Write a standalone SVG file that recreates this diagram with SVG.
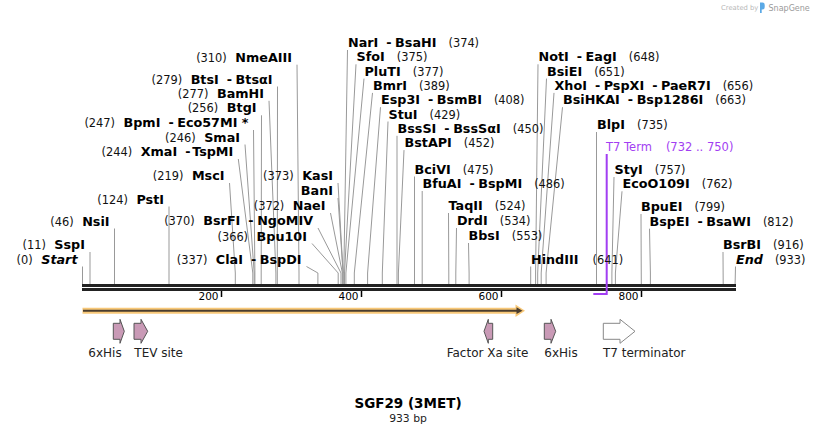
<svg xmlns="http://www.w3.org/2000/svg" width="818" height="434" viewBox="0 0 818 434">
<style>
text{font-family:"DejaVu Sans","Liberation Sans",sans-serif;fill:#000}
.b{font-weight:bold;font-size:12.75px}
.i{font-weight:bold;font-style:italic;font-size:12.75px}
.p{font-weight:normal;font-size:11.4px;fill:#111}
.t{font-size:10.5px}
.f{font-size:12px;fill:#222}
.ln{stroke:#999;stroke-width:1;fill:none}
.feat{fill:#c99ab6;stroke:#555;stroke-width:1}
.term{fill:#fff;stroke:#888;stroke-width:1}
.pur{fill:#a23ef2;font-size:11.5px}
</style>
<rect width="818" height="434" fill="#fff"/>
<g id="logo">
<text x="721" y="9.5" style="font-size:6.8px;fill:#b8b8b8">Created by</text>
<path d="M760,2.5 h2.5 a2.2,2.2 0 0 1 2.2,2.2 v2.6 a2.2,2.2 0 0 1 -2.2,2.2 h-0.8 v3.5 h-1.7 z" fill="#5aa9e6"/>
<text x="768.5" y="10.5" style="font-size:8px;fill:#9a9a9a">SnapGene</text>
</g>
<g id="connectors">
<polyline class="ln" points="347.5,50 343.8,273 343.8,284"/>
<polyline class="ln" points="356,64.3 344.5,273 344.5,284"/>
<polyline class="ln" points="364,78.6 345.9,273 345.9,284"/>
<polyline class="ln" points="372.5,92.9 354.3,273 354.3,284"/>
<polyline class="ln" points="380.5,107.2 367.6,273 367.6,284"/>
<polyline class="ln" points="388,121.5 382.3,273 382.3,284"/>
<polyline class="ln" points="397,135.8 397,284"/>
<polyline class="ln" points="404,150.1 398.4,273 398.4,284"/>
<polyline class="ln" points="414.5,176.5 414.5,284"/>
<polyline class="ln" points="422.2,191 422.2,284"/>
<polyline class="ln" points="448.5,213 448.8,273 448.8,284"/>
<polyline class="ln" points="456.5,228 455.8,273 455.8,284"/>
<polyline class="ln" points="468.5,243 469.1,273 469.1,284"/>
<polyline class="ln" points="530.7,266.5 530.7,284"/>
<polyline class="ln" points="538,64.3 535.6,273 535.6,284"/>
<polyline class="ln" points="546.5,78.6 537.7,273 537.7,284"/>
<polyline class="ln" points="554,92.9 541.2,273 541.2,284"/>
<polyline class="ln" points="562.5,107.2 546.1,273 546.1,284"/>
<polyline class="ln" points="596.5,132 596.5,284"/>
<polyline class="ln" points="614,177 611.9,273 611.9,284"/>
<polyline class="ln" points="622,191.3 615.4,273 615.4,284"/>
<polyline class="ln" points="641,214 641.3,284"/>
<polyline class="ln" points="649.5,228.7 650.4,273 650.4,284"/>
<polyline class="ln" points="723,252 723.2,284"/>
<polyline class="ln" points="735.5,266.5 735.1,284"/>
<polyline class="ln" points="297,64.7 299,273 299,284"/>
<polyline class="ln" points="277.5,86.5 277.3,273 277.3,284"/>
<polyline class="ln" points="269,100.8 275.9,273 275.9,284"/>
<polyline class="ln" points="261.5,115.3 261.2,273 261.2,284"/>
<polyline class="ln" points="253.5,130 254.9,273 254.9,284"/>
<polyline class="ln" points="245,144.5 254.2,273 254.2,284"/>
<polyline class="ln" points="238.3,159 252.8,273 252.8,284"/>
<polyline class="ln" points="229.5,183 235.3,273 235.3,284"/>
<polyline class="ln" points="169,206.5 169,284"/>
<polyline class="ln" points="114.5,228.5 114.5,284"/>
<polyline class="ln" points="90,252 90,284"/>
<polyline class="ln" points="82.5,266.5 82.5,284"/>
<polyline class="ln" points="338,183 343.1,273 343.1,284"/>
<polyline class="ln" points="338,198 343.1,273"/>
<polyline class="ln" points="330.5,213 342.4,273 342.4,284"/>
<polyline class="ln" points="318,228 341,273 341,284"/>
<polyline class="ln" points="312,243.5 338.2,273 338.2,284"/>
<polyline class="ln" points="306.5,266.5 317.9,273 317.9,284"/>
</g>
<g id="sequence">
<rect x="82" y="284" width="654" height="3" fill="#222"/>
<rect x="82" y="288" width="654" height="3" fill="#222"/>
<g stroke="#000" stroke-width="1.5">
<line x1="221.5" y1="291" x2="221.5" y2="297"/>
<line x1="361.5" y1="291" x2="361.5" y2="297"/>
<line x1="501.5" y1="291" x2="501.5" y2="297"/>
<line x1="641.5" y1="291" x2="641.5" y2="297"/>
</g>
<text class="t" x="218.5" y="300" text-anchor="end">200</text>
<text class="t" x="358.5" y="300" text-anchor="end">400</text>
<text class="t" x="498.5" y="300" text-anchor="end">600</text>
<text class="t" x="638.5" y="300" text-anchor="end">800</text>
</g>
<g id="t7term-marker">
<path d="M606.7,154 V294 H593.3" fill="none" stroke="#a23ef2" stroke-width="2"/>
<text class="pur" x="606" y="151">T7 Term<tspan dx="14">(732 .. 750)</tspan></text>
</g>
<g id="orf">
<path d="M82.5,310.7 H518" stroke="#f8c878" stroke-width="6" fill="none"/>
<polygon points="515.5,304.5 525,310.7 515.5,316.9" fill="#f8c878"/>
<path d="M83,310.7 H518" stroke="#4a3d2e" stroke-width="2" fill="none"/>
<polygon points="516.5,307.3 522.5,310.7 516.5,314.1" fill="#4a3d2e"/>
</g>
<g id="feat-6xHis-1"><polygon class="feat" points="113.3,323.3 120,323.3 120,319.3 124.3,331.3 120,343.3 120,339.3 113.3,339.3"/><text class="f" x="88.3" y="357">6xHis</text></g>
<g id="feat-TEV"><polygon class="feat" points="134,323.3 141,323.3 141,319.3 147.7,331.3 141,343.3 141,339.3 134,339.3"/><text class="f" x="134.3" y="357">TEV site</text></g>
<g id="feat-FactorXa"><polygon class="feat" points="492.7,323.3 488.3,323.3 488.3,319.3 484,331.3 488.3,343.3 488.3,339.3 492.7,339.3"/><text class="f" x="446.7" y="357">Factor Xa site</text></g>
<g id="feat-6xHis-2"><polygon class="feat" points="544.3,323.3 551,323.3 551,319.3 555.7,331.3 551,343.3 551,339.3 544.3,339.3"/><text class="f" x="544.3" y="357">6xHis</text></g>
<g id="feat-T7term"><polygon class="term" points="603.3,323.3 620,323.3 620,319.3 635,331.3 620,343.3 620,339.3 603.3,339.3"/><text class="f" x="603" y="357">T7 terminator</text></g>
<g id="enz-NarI"><text x="348" y="47"><tspan class="b">NarI</tspan><tspan class="b" dx="8">-</tspan><tspan class="b" dx="3.5">BsaHI</tspan><tspan class="p" dx="12">(374)</tspan></text></g>
<g id="enz-SfoI"><text x="356.5" y="61.3"><tspan class="b">SfoI</tspan><tspan class="p" dx="12">(375)</tspan></text></g>
<g id="enz-PluTI"><text x="364.5" y="75.6"><tspan class="b">PluTI</tspan><tspan class="p" dx="12">(377)</tspan></text></g>
<g id="enz-BmrI"><text x="373" y="89.9"><tspan class="b">BmrI</tspan><tspan class="p" dx="12">(389)</tspan></text></g>
<g id="enz-Esp3I"><text x="381" y="104.2"><tspan class="b">Esp3I</tspan><tspan class="b" dx="8">-</tspan><tspan class="b" dx="3.5">BsmBI</tspan><tspan class="p" dx="12">(408)</tspan></text></g>
<g id="enz-StuI"><text x="388.5" y="118.5"><tspan class="b">StuI</tspan><tspan class="p" dx="12">(429)</tspan></text></g>
<g id="enz-BssSI"><text x="397.5" y="132.8"><tspan class="b">BssSI</tspan><tspan class="b" dx="8">-</tspan><tspan class="b" dx="3.5">BssSαI</tspan><tspan class="p" dx="12">(450)</tspan></text></g>
<g id="enz-BstAPI"><text x="404.5" y="147.1"><tspan class="b">BstAPI</tspan><tspan class="p" dx="12">(452)</tspan></text></g>
<g id="enz-BciVI"><text x="414.5" y="173.5"><tspan class="b">BciVI</tspan><tspan class="p" dx="12">(475)</tspan></text></g>
<g id="enz-BfuAI"><text x="422.5" y="188"><tspan class="b">BfuAI</tspan><tspan class="b" dx="8">-</tspan><tspan class="b" dx="3.5">BspMI</tspan><tspan class="p" dx="12">(486)</tspan></text></g>
<g id="enz-TaqII"><text x="448.5" y="210"><tspan class="b">TaqII</tspan><tspan class="p" dx="12">(524)</tspan></text></g>
<g id="enz-DrdI"><text x="457" y="225"><tspan class="b">DrdI</tspan><tspan class="p" dx="12">(534)</tspan></text></g>
<g id="enz-BbsI"><text x="468.5" y="240"><tspan class="b">BbsI</tspan><tspan class="p" dx="12">(553)</tspan></text></g>
<g id="enz-HindIII"><text x="531" y="263.5"><tspan class="b">HindIII</tspan><tspan class="p" dx="14">(641)</tspan></text></g>
<g id="enz-NotI"><text x="538.5" y="61.3"><tspan class="b">NotI</tspan><tspan class="b" dx="8">-</tspan><tspan class="b" dx="3.5">EagI</tspan><tspan class="p" dx="12">(648)</tspan></text></g>
<g id="enz-BsiEI"><text x="547" y="75.6"><tspan class="b">BsiEI</tspan><tspan class="p" dx="12">(651)</tspan></text></g>
<g id="enz-XhoI"><text x="554.5" y="89.9"><tspan class="b">XhoI</tspan><tspan class="b" dx="8">-</tspan><tspan class="b" dx="3.5">PspXI</tspan><tspan class="b" dx="8">-</tspan><tspan class="b" dx="3.5">PaeR7I</tspan><tspan class="p" dx="12">(656)</tspan></text></g>
<g id="enz-BsiHKAI"><text x="563" y="104.2"><tspan class="b">BsiHKAI</tspan><tspan class="b" dx="8">-</tspan><tspan class="b" dx="3.5">Bsp1286I</tspan><tspan class="p" dx="12">(663)</tspan></text></g>
<g id="enz-BlpI"><text x="597" y="129"><tspan class="b">BlpI</tspan><tspan class="p" dx="12">(735)</tspan></text></g>
<g id="enz-StyI"><text x="614.5" y="174"><tspan class="b">StyI</tspan><tspan class="p" dx="12">(757)</tspan></text></g>
<g id="enz-EcoO109I"><text x="622.5" y="188.3"><tspan class="b">EcoO109I</tspan><tspan class="p" dx="12">(762)</tspan></text></g>
<g id="enz-BpuEI"><text x="641" y="211"><tspan class="b">BpuEI</tspan><tspan class="p" dx="12">(799)</tspan></text></g>
<g id="enz-BspEI"><text x="649.5" y="225.7"><tspan class="b">BspEI</tspan><tspan class="b" dx="8">-</tspan><tspan class="b" dx="3.5">BsaWI</tspan><tspan class="p" dx="12">(812)</tspan></text></g>
<g id="enz-BsrBI"><text x="723" y="249"><tspan class="b">BsrBI</tspan><tspan class="p" dx="12">(916)</tspan></text></g>
<g id="enz-End"><text x="736" y="263.5"><tspan class="i">End</tspan><tspan class="p" dx="12">(933)</tspan></text></g>
<g id="enz-NmeAIII"><text x="292" y="61.7" text-anchor="end"><tspan class="p">(310)</tspan><tspan class="b" dx="8.5">NmeAIII</tspan></text></g>
<g id="enz-BtsI"><text x="272.5" y="83.5" text-anchor="end"><tspan class="p">(279)</tspan><tspan class="b" dx="8.5">BtsI</tspan><tspan class="b" dx="8">-</tspan><tspan class="b" dx="3.5">BtsαI</tspan></text></g>
<g id="enz-BamHI"><text x="264" y="97.8" text-anchor="end"><tspan class="p">(277)</tspan><tspan class="b" dx="8.5">BamHI</tspan></text></g>
<g id="enz-BtgI"><text x="256.5" y="112.3" text-anchor="end"><tspan class="p">(256)</tspan><tspan class="b" dx="8.5">BtgI</tspan></text></g>
<g id="enz-BpmI"><text x="248.5" y="127" text-anchor="end"><tspan class="p">(247)</tspan><tspan class="b" dx="8.5">BpmI</tspan><tspan class="b" dx="8">-</tspan><tspan class="b" dx="3.5">Eco57MI *</tspan></text></g>
<g id="enz-SmaI"><text x="240" y="141.5" text-anchor="end"><tspan class="p">(246)</tspan><tspan class="b" dx="8.5">SmaI</tspan></text></g>
<g id="enz-XmaI"><text x="233.3" y="156" text-anchor="end"><tspan class="p">(244)</tspan><tspan class="b" dx="8.5">XmaI</tspan><tspan class="b" dx="8">-</tspan><tspan class="b" dx="3.5">TspMI</tspan></text></g>
<g id="enz-MscI"><text x="224.5" y="180" text-anchor="end"><tspan class="p">(219)</tspan><tspan class="b" dx="8.5">MscI</tspan></text></g>
<g id="enz-PstI"><text x="164" y="203.5" text-anchor="end"><tspan class="p">(124)</tspan><tspan class="b" dx="8.5">PstI</tspan></text></g>
<g id="enz-NsiI"><text x="109.5" y="225.5" text-anchor="end"><tspan class="p">(46)</tspan><tspan class="b" dx="8.5">NsiI</tspan></text></g>
<g id="enz-SspI"><text x="85" y="249" text-anchor="end"><tspan class="p">(11)</tspan><tspan class="b" dx="8.5">SspI</tspan></text></g>
<g id="enz-Start"><text x="77.5" y="263.5" text-anchor="end"><tspan class="p">(0)</tspan><tspan class="i" dx="8.5">Start</tspan></text></g>
<g id="enz-KasI"><text x="333" y="180" text-anchor="end"><tspan class="p">(373)</tspan><tspan class="b" dx="8.5">KasI</tspan></text></g>
<g id="enz-BanI"><text x="333" y="195" text-anchor="end"><tspan class="b">BanI</tspan></text></g>
<g id="enz-NaeI"><text x="325.5" y="210" text-anchor="end"><tspan class="p">(372)</tspan><tspan class="b" dx="8.5">NaeI</tspan></text></g>
<g id="enz-BsrFI"><text x="313" y="225" text-anchor="end"><tspan class="p">(370)</tspan><tspan class="b" dx="8.5">BsrFI</tspan><tspan class="b" dx="8">-</tspan><tspan class="b" dx="3.5">NgoMIV</tspan></text></g>
<g id="enz-Bpu10I"><text x="307" y="240.5" text-anchor="end"><tspan class="p">(366)</tspan><tspan class="b" dx="8.5">Bpu10I</tspan></text></g>
<g id="enz-ClaI"><text x="301.5" y="263.5" text-anchor="end"><tspan class="p">(337)</tspan><tspan class="b" dx="8.5">ClaI</tspan><tspan class="b" dx="8">-</tspan><tspan class="b" dx="3.5">BspDI</tspan></text></g>
<g id="title">
<text x="408" y="408" text-anchor="middle" style="font-weight:bold;font-size:13.5px">SGF29 (3MET)</text>
<text x="408" y="422" text-anchor="middle" style="font-size:10.8px;fill:#222">933 bp</text>
</g>
</svg>
